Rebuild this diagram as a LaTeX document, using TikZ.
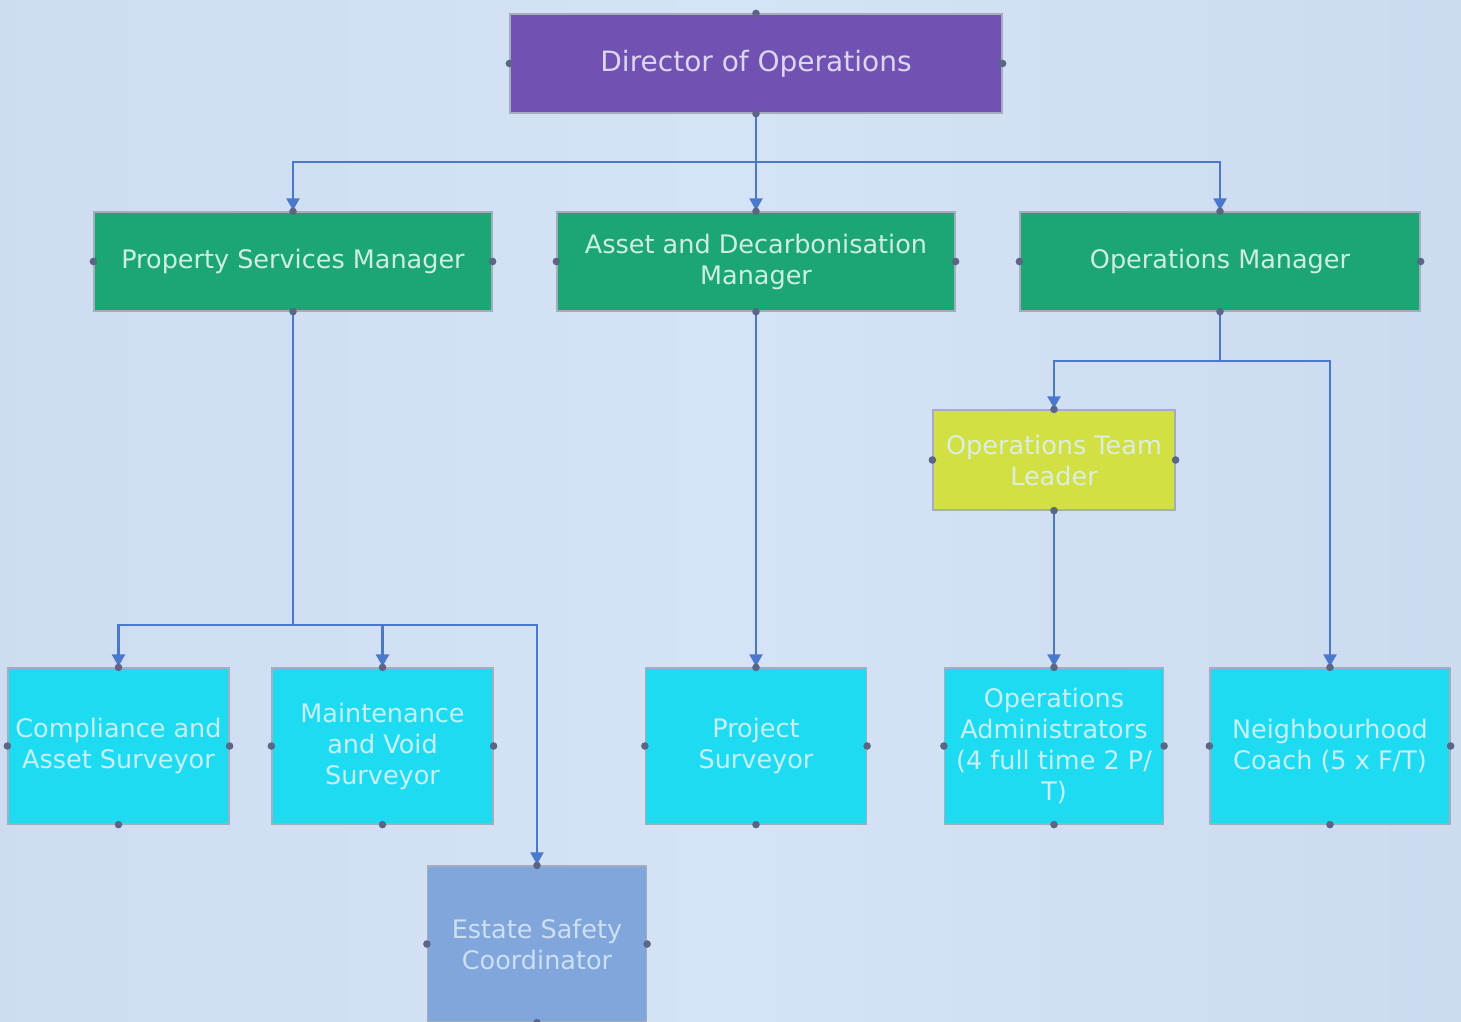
\documentclass[tikz,border=0pt]{standalone}
\usepackage{fontspec}
\setmainfont{DejaVu Sans}
\usetikzlibrary{arrows.meta}
\definecolor{bgA}{HTML}{C2D3EA}
\definecolor{bgB}{HTML}{CCDBF0}
\definecolor{bgC}{HTML}{D5E3F6}
\definecolor{bgD}{HTML}{CAD9EF}
\definecolor{bgE}{HTML}{BDCDE5}
\definecolor{purp}{HTML}{7152B2}
\definecolor{purptext}{HTML}{DCD6F2}
\definecolor{grn}{HTML}{1CA673}
\definecolor{grntext}{HTML}{CFEEE2}
\definecolor{ylw}{HTML}{D2E044}
\definecolor{ylwtext}{HTML}{DCEEE0}
\definecolor{cyn}{HTML}{1DDCF2}
\definecolor{cyntext}{HTML}{C8EEF6}
\definecolor{blu}{HTML}{80A6DC}
\definecolor{blutext}{HTML}{CDE0F2}
\definecolor{boxline}{HTML}{A4ADBE}
\definecolor{linec}{HTML}{4A78CC}
\definecolor{dotc}{HTML}{5B6585}
\pgfdeclarehorizontalshading{bgshade}{100bp}{color(0bp)=(bgA); color(20bp)=(bgB); color(50bp)=(bgC); color(80bp)=(bgD); color(100bp)=(bgE)}
\begin{document}
\begin{tikzpicture}[x=1pt,y=-1pt,
  box/.style={rectangle, draw=boxline, line width=1.2pt, inner sep=2pt, align=center,
    font=\fontsize{25.5}{31}\selectfont},
  topbox/.style={box, fill=purp, text=purptext, minimum width=492pt, minimum height=99pt,
    font=\fontsize{28}{33}\selectfont},
  midbox/.style={box, fill=grn, text=grntext, minimum width=398pt, minimum height=99pt},
  otlbox/.style={box, fill=ylw, text=ylwtext, minimum width=242pt, minimum height=100pt},
  botbox/.style={box, fill=cyn, text=cyntext, minimum width=221pt, minimum height=156pt},
  estbox/.style={box, fill=blu, text=blutext, minimum width=219pt, minimum height=156pt},
  conn/.style={draw=linec, line width=2.2pt},
  arr/.style={conn, -{Triangle[width=13pt,length=12pt]}, shorten >=1pt},
  cdot/.style={fill=dotc, draw=none}
]
\useasboundingbox (0,0) rectangle (1461,1021);
\fill[shading=bgshade] (0,0) rectangle (1461,1021);

\node[topbox] (dir) at (756,63.5) {Director of Operations};
\node[midbox] (psm) at (293,261.5) {Property Services Manager};
\node[midbox] (adm) at (756,261.5) {Asset and Decarbonisation\\Manager};
\node[midbox, minimum width=400pt] (om) at (1220,261.5) {Operations Manager};
\node[otlbox] (otl) at (1054,460) {Operations Team\\Leader};
\node[botbox] (cas) at (118.5,746) {Compliance and\\Asset Surveyor};
\node[botbox] (mvs) at (382.5,746) {Maintenance\\and Void\\Surveyor};
\node[botbox] (ps) at (756,746) {Project\\Surveyor};
\node[botbox, minimum width=219pt] (oa) at (1054,746) {Operations\\Administrators\\(4 full time 2 P/\\T)};
\node[botbox, minimum width=240pt] (nc) at (1330,746) {Neighbourhood\\Coach (5 x F/T)};
\node[estbox] (ess) at (537,944) {Estate Safety\\Coordinator};

\path (0,162) coordinate (r1) (0,625) coordinate (r2) (0,361) coordinate (r3);
\coordinate (j1) at (dir.south |- r1);
\coordinate (j2) at (psm.south |- r2);
\coordinate (j3) at (om.south |- r3);

\draw[conn] (dir.south) -- (j1);
\draw[arr] (j1) -| (psm.north);
\draw[arr] (j1) -- (adm.north);
\draw[arr] (j1) -| (om.north);

\draw[conn] (psm.south) -- (j2);
\draw[arr] (j2) -| (cas.north);
\draw[arr] (j2) -| (mvs.north);
\draw[arr] (j2) -| (ess.north);

\draw[arr] (adm.south) -- (ps.north);

\draw[conn] (om.south) -- (j3);
\draw[arr] (j3) -| (otl.north);
\draw[arr] (j3) -| (nc.north);

\draw[arr] (otl.south) -- (oa.north);

\foreach \n in {dir,psm,adm,om,otl,cas,mvs,ps,oa,nc,ess}{
  \foreach \a in {north,south,east,west}{
    \fill[cdot] (\n.\a) circle (3.8pt);
  }
}
\end{tikzpicture}
\end{document}
